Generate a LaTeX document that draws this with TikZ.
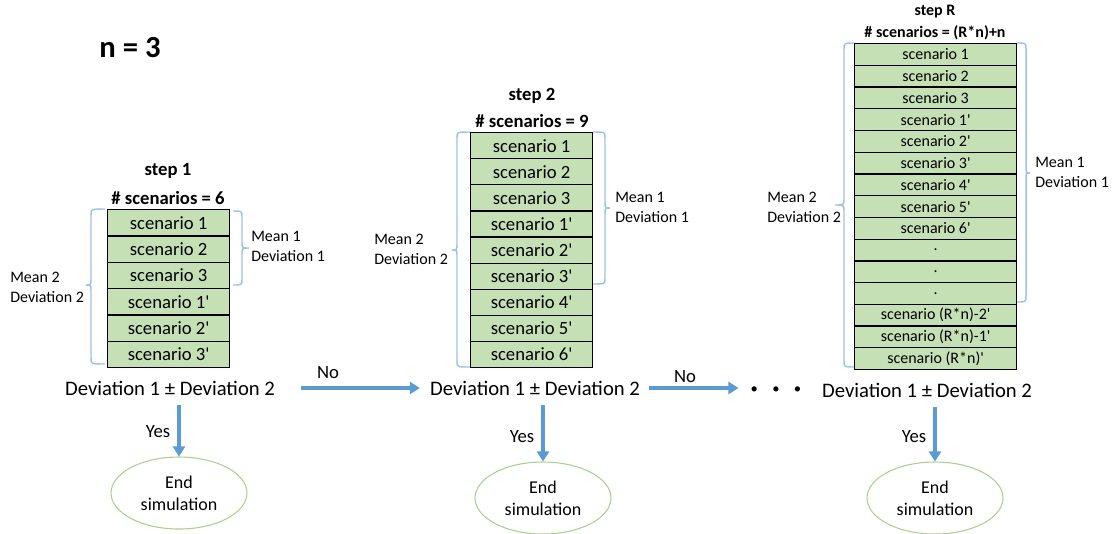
\documentclass[tikz,border=0pt]{standalone}
\usepackage{fontspec}
\setmainfont{Carlito}
\usetikzlibrary{shapes.geometric,arrows.meta}
\definecolor{cellgreen}{RGB}{197,224,180}
\definecolor{bracecol}{RGB}{157,195,230}
\definecolor{arrowblue}{RGB}{91,155,213}
\definecolor{ellgreen}{RGB}{169,209,142}
\newcommand\zap{\textquotesingle}
\newcommand\zfscen{\fontsize{14}{16}\selectfont}
\newcommand\zfscenR{\fontsize{12}{14}\selectfont}
\newcommand\zfdev{\fontsize{15.5}{18}\selectfont}
\newcommand\zfbr{\fontsize{12}{15}\selectfont}
\newcommand\zfyes{\fontsize{14}{16}\selectfont}
\newcommand\zfend{\fontsize{13.5}{16.5}\selectfont}
\newcommand\zfstep{\bfseries\fontsize{14}{16}\selectfont}
\newcommand\zfstepR{\bfseries\fontsize{12}{14}\selectfont}
\newcommand\zdrawbrace[6]{% xv, xe, xt, top, bot, mid
  \draw[brc] (#2,#4) .. controls (#1,#4) .. (#1,{#4+6}) -- (#1,{#6-6})
    .. controls (#1,#6) .. (#3,#6) .. controls (#1,#6) .. (#1,{#6+6})
    -- (#1,{#5-6}) .. controls (#1,#5) .. (#2,#5);}
\begin{document}
\begin{tikzpicture}[x=0.75pt,y=-0.75pt,
  cellA/.style={draw=black, line width=0.9pt, fill=cellgreen, inner sep=0pt,
    anchor=north west, minimum width=91.5pt, minimum height=19.75pt, font=\zfscen},
  cellB/.style={cellA, minimum height=19.58pt},
  cellR/.style={cellA, minimum width=121.5pt, minimum height=16.3pt, font=\zfscenR},
  brc/.style={draw=bracecol, line width=1.1pt},
  brl/.style={anchor=west, align=left, inner sep=0pt, font=\zfbr},
  dev/.style={inner sep=0pt, font=\zfdev},
  arr/.style={draw=arrowblue, line width=2.4pt, -{Triangle[length=7.5pt,width=9pt]}},
  yn/.style={inner sep=0pt, font=\zfyes},
  endell/.style={ellipse, draw=ellgreen, line width=0.8pt, minimum width=102pt,
    minimum height=54pt, inner sep=0pt, align=center, font=\zfend},
  ttl/.style={inner sep=0pt, font=\zfstep},
  ttlR/.style={inner sep=0pt, font=\zfstepR}]
\useasboundingbox (0,0) rectangle (1119,533);

% n = 3
\node[inner sep=0pt, font=\bfseries\fontsize{23}{26}\selectfont] (nval) at (130,48) {n = 3};

% ---------- step 1 ----------
\node[ttl] (t1) at (168,171) {step 1};
\node[ttl] (c1) at (168,198) {\# scenarios = 6};
\foreach \t [count=\i from 0] in {scenario 1,scenario 2,scenario 3,scenario 1\zap,scenario 2\zap,scenario 3\zap}
  \node[cellA] (sa\i) at (107,{209+\i*26.33}) {\t};
\zdrawbrace{91}{105}{86}{209}{364}{285}
\zdrawbrace{242}{233}{249}{211}{285}{248}
\node[brl] (la1) at (10,287) {Mean 2\\Deviation 2};
\node[brl] (ra1) at (251,246) {Mean 1\\Deviation 1};

% ---------- step 2 ----------
\node[ttl] (t2) at (532,96) {step 2};
\node[ttl] (c2) at (532,121) {\# scenarios = 9};
\foreach \t [count=\i from 0] in {scenario 1,scenario 2,scenario 3,scenario 1\zap,scenario 2\zap,scenario 3\zap,scenario 4\zap,scenario 5\zap,scenario 6\zap}
  \node[cellB] (sb\i) at (470,{132+\i*26.11}) {\t};
\zdrawbrace{457}{470}{452}{132}{367}{250}
\zdrawbrace{605}{593}{610}{132}{284}{208}
\node[brl] (la2) at (374,249) {Mean 2\\Deviation 2};
\node[brl] (ra2) at (615,207) {Mean 1\\Deviation 1};

% ---------- step R ----------
\node[ttlR] (tR) at (935,12) {step R};
\node[ttlR] (cR) at (935,33) {\# scenarios = (R*n)+n};
\foreach \t [count=\i from 0] in {scenario 1,scenario 2,scenario 3,scenario 1\zap,scenario 2\zap,scenario 3\zap,scenario 4\zap,scenario 5\zap,scenario 6\zap,.,.,.,scenario (R*n)-2\zap,scenario (R*n)-1\zap,scenario (R*n)\zap}
  \node[cellR] (sr\i) at (854,{43+\i*21.73}) {\t};
\zdrawbrace{844}{854}{835}{43}{367}{205}
\zdrawbrace{1026}{1017}{1030}{43}{302}{173}
\node[brl] (laR) at (767,207) {Mean 2\\Deviation 2};
\node[brl] (raR) at (1035,172) {Mean 1\\Deviation 1};

% ---------- decisions ----------
\node[dev] (dev1) at (170,388) {Deviation 1 ± Deviation 2};
\node[dev] (dev2) at (535,388) {Deviation 1 ± Deviation 2};
\node[inner sep=0pt, font=\fontsize{11}{13}\selectfont] (dots) at (776,390) {\textbullet\hspace{10.75pt}\textbullet\hspace{10.75pt}\textbullet};
\node[dev] (dev3) at (927,390) {Deviation 1 ± Deviation 2};

\draw[arr, shorten <=19.5pt, shorten >=7.5pt] (dev1.east) -- (dev2.west);
\node[yn] (no1) at (328,373) {No};
\draw[arr, shorten <=6.75pt, shorten >=9pt] (dev2.east) -- (dev2.east -| dots.west);
\node[yn] (no2) at (685,377) {No};

% ---------- end ----------
\node[endell] (end1) at (179,493) {End\\simulation};
\node[endell] (end2) at (543,498) {End\\simulation};
\node[endell] (end3) at (935,498) {End\\simulation};

\draw[arr, shorten <=12.75pt] (end1.north |- dev1.center) -- (end1.north);
\draw[arr, shorten <=12.75pt] (end2.north |- dev2.center) -- (end2.north);
\draw[arr, shorten <=12.75pt] (end3.north |- dev3.center) -- (end3.north);
\node[yn] (y1) at (158,432) {Yes};
\node[yn] (y2) at (522,437) {Yes};
\node[yn] (y3) at (914,437) {Yes};
\end{tikzpicture}
\end{document}
